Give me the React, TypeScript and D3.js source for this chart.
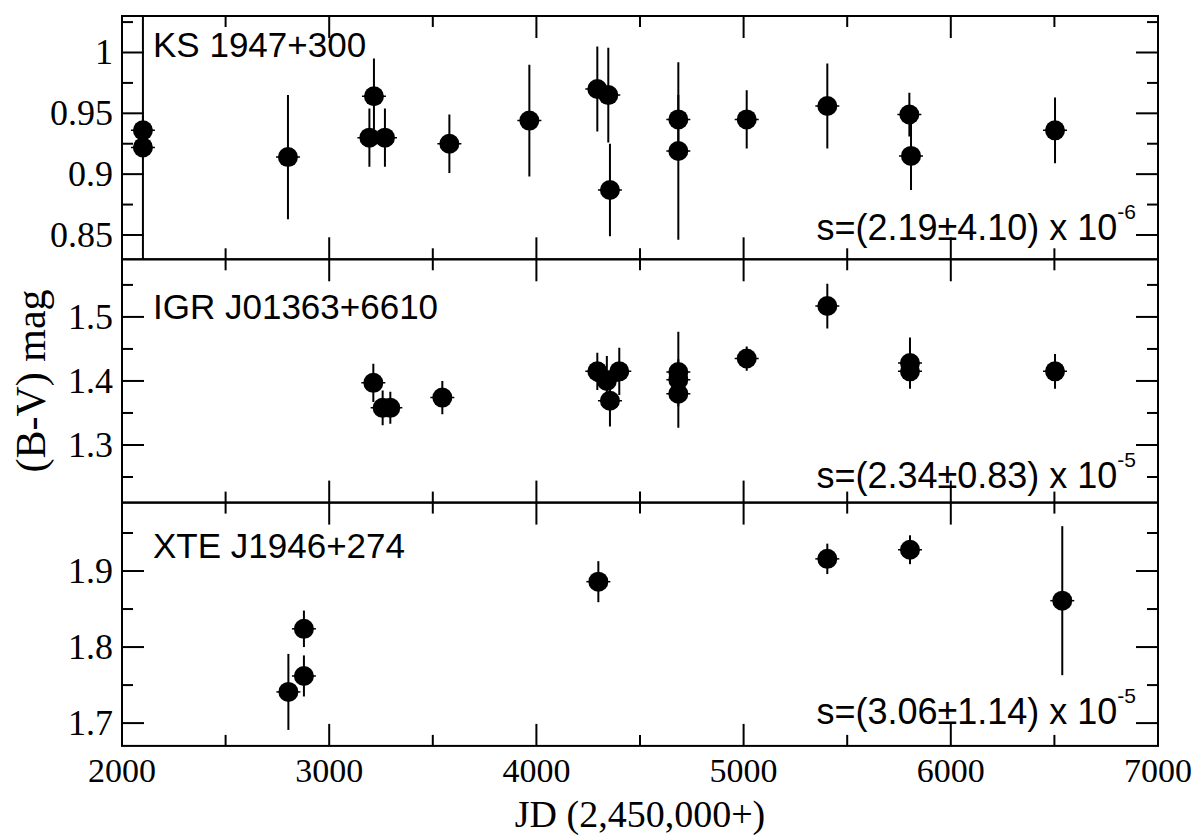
import React, { useEffect, useRef } from "react";
import * as d3 from "d3";

// KS 1947+300
const ksJD = [2101, 2101, 2801, 3194, 3216, 3269, 3580, 3966, 4294, 4347, 4355, 4685, 4685, 5015, 5404, 5800, 5808, 6503];
const ksBV = [0.936, 0.922, 0.914, 0.93, 0.964, 0.93, 0.925, 0.944, 0.97, 0.965, 0.887, 0.945, 0.919, 0.945, 0.956, 0.949, 0.915, 0.936];
const ksErr = [0.012, 0.2, 0.051, 0.024, 0.031, 0.024, 0.024, 0.046, 0.035, 0.039, 0.038, 0.02, 0.073, 0.024, 0.035, 0.018, 0.028, 0.027];

// IGR J01363+6610
const igrJD = [3213, 3258, 3295, 3546, 4294, 4340, 4355, 4400, 4685, 4685, 4685, 5015, 5404, 5803, 5803, 6503];
const igrBV = [1.397, 1.358, 1.358, 1.374, 1.415, 1.4, 1.369, 1.415, 1.414, 1.402, 1.38, 1.435, 1.517, 1.428, 1.415, 1.415];
const igrErr = [0.03, 0.027, 0.025, 0.026, 0.029, 0.039, 0.04, 0.037, 0.02, 0.075, 0.02, 0.019, 0.035, 0.04, 0.02, 0.027];

// XTE J1946+274
const xteJD = [2803, 2878, 2878, 4299, 5404, 5803, 6538];
const xteBV = [1.741, 1.824, 1.762, 1.886, 1.916, 1.928, 1.861];
const xteErr = [0.05, 0.024, 0.027, 0.027, 0.02, 0.019, 0.098];

const panelNames = ["KS 1947+300", "IGR J01363+6610", "XTE J1946+274"];
const slopeTexts = ["s=(2.19\u00b14.10) x 10", "s=(2.34\u00b10.83) x 10", "s=(3.06\u00b11.14) x 10"];
const slopeExps = ["-6", "-5", "-5"];
const yDomains = [[0.83, 1.03], [1.21, 1.59], [1.67, 1.99]];
const yMajorTicks = [[0.85, 0.9, 0.95, 1], [1.3, 1.4, 1.5], [1.7, 1.8, 1.9]];
const yMinorSteps = [0.025, 0.05, 0.05];
const xMajorTicks = [2000, 3000, 4000, 5000, 6000, 7000];
const xMinorTicks = [2500, 3500, 4500, 5500, 6500];

const SERIF = "'Liberation Serif', 'Times New Roman', serif";
const SANS = "'Liberation Sans', Arial, Helvetica, sans-serif";

const App = () => {
  const ref = useRef<SVGSVGElement>(null);

  useEffect(() => {
    const svg = d3.select(ref.current);
    svg.selectAll("*").remove();

    const left = 122;
    const right = 1158;
    const top = 16;
    const panelH = 243.3;
    const major = 22;
    const minor = 11;

    const x = d3.scaleLinear().domain([2000, 7000]).range([left, right]);

    const panels = [
      { jd: ksJD, bv: ksBV, err: ksErr, labelDy: 41, slopeDy: 19 },
      { jd: igrJD, bv: igrBV, err: igrErr, labelDy: 60, slopeDy: 15 },
      { jd: xteJD, bv: xteBV, err: xteErr, labelDy: 55, slopeDy: 22 },
    ];

    svg.append("rect").attr("width", 1200).attr("height", 840).attr("fill", "#fff");

    panels.forEach((p, i) => {
      const y0 = top + i * panelH;
      const y1 = y0 + panelH;
      const [lo, hi] = yDomains[i];
      const y = d3.scaleLinear().domain([lo, hi]).range([y1, y0]);
      const g = svg.append("g");

      // clip for error bars running out of the panel
      const clipId = `clip${i}`;
      svg
        .append("defs")
        .append("clipPath")
        .attr("id", clipId)
        .append("rect")
        .attr("x", left)
        .attr("y", y0)
        .attr("width", right - left)
        .attr("height", panelH);

      const pts = p.jd.map((d, k) => ({ jd: d, v: p.bv[k], e: p.err[k] }));
      const marks = g.append("g").attr("clip-path", `url(#${clipId})`);

      marks
        .selectAll("line.err")
        .data(pts)
        .join("line")
        .attr("class", "err")
        .attr("x1", (d) => x(d.jd))
        .attr("x2", (d) => x(d.jd))
        .attr("y1", (d) => y(d.v - d.e))
        .attr("y2", (d) => y(d.v + d.e))
        .attr("stroke", "#000")
        .attr("stroke-width", 2);

      marks
        .selectAll("line.cap")
        .data(pts)
        .join("line")
        .attr("class", "cap")
        .attr("x1", (d) => x(d.jd) - 12)
        .attr("x2", (d) => x(d.jd) + 12)
        .attr("y1", (d) => y(d.v))
        .attr("y2", (d) => y(d.v))
        .attr("stroke", "#000")
        .attr("stroke-width", 1.5);

      marks
        .selectAll("circle")
        .data(pts)
        .join("circle")
        .attr("cx", (d) => x(d.jd))
        .attr("cy", (d) => y(d.v))
        .attr("r", 10)
        .attr("fill", "#000");

      // frame
      g.append("rect")
        .attr("x", left)
        .attr("y", y0)
        .attr("width", right - left)
        .attr("height", panelH)
        .attr("fill", "none")
        .attr("stroke", "#000")
        .attr("stroke-width", 2);

      // y ticks on both sides
      const minorY = d3
        .range(Math.ceil(lo / yMinorSteps[i]) * yMinorSteps[i], hi, yMinorSteps[i])
        .filter((v) => !yMajorTicks[i].some((m) => Math.abs(m - v) < 1e-6));
      const yTicks = [
        ...yMajorTicks[i].map((v) => ({ v, len: major })),
        ...minorY.map((v) => ({ v, len: minor })),
      ];
      g.selectAll("line.yl")
        .data(yTicks)
        .join("line")
        .attr("class", "yl")
        .attr("x1", left)
        .attr("x2", (d) => left + d.len)
        .attr("y1", (d) => y(d.v))
        .attr("y2", (d) => y(d.v))
        .attr("stroke", "#000")
        .attr("stroke-width", 2);
      g.selectAll("line.yr")
        .data(yTicks)
        .join("line")
        .attr("class", "yr")
        .attr("x1", right)
        .attr("x2", (d) => right - d.len)
        .attr("y1", (d) => y(d.v))
        .attr("y2", (d) => y(d.v))
        .attr("stroke", "#000")
        .attr("stroke-width", 2);

      // x ticks top and bottom of each panel
      const xTicks = [
        ...xMajorTicks.map((v) => ({ v, len: major })),
        ...xMinorTicks.map((v) => ({ v, len: minor })),
      ];
      [y0, y1].forEach((edge, s) => {
        g.append("g")
          .selectAll("line")
          .data(xTicks)
          .join("line")
          .attr("x1", (d) => x(d.v))
          .attr("x2", (d) => x(d.v))
          .attr("y1", edge)
          .attr("y2", (d) => (s === 0 ? edge + d.len : edge - d.len))
          .attr("stroke", "#000")
          .attr("stroke-width", 2);
      });

      // y tick labels
      g.selectAll("text.yt")
        .data(yMajorTicks[i])
        .join("text")
        .attr("class", "yt")
        .attr("x", left - 9)
        .attr("y", (d) => y(d) + 12)
        .attr("text-anchor", "end")
        .style("font-family", SERIF)
        .style("font-size", "36px")
        .text((d) => String(+d.toFixed(3)));

      // panel name
      g.append("text")
        .attr("x", left + 31)
        .attr("y", y0 + p.labelDy)
        .style("font-family", SANS)
        .style("font-size", "35px")
        .text(panelNames[i]);

      // slope annotation
      const st = g
        .append("text")
        .attr("x", right - 22)
        .attr("y", y1 - p.slopeDy)
        .attr("text-anchor", "end")
        .style("font-family", SANS)
        .style("font-size", "36px");
      st.append("tspan").text(slopeTexts[i]);
      st.append("tspan").attr("dy", -21).style("font-size", "21px").text(slopeExps[i]);
    });

    const bottom = top + 3 * panelH;

    svg
      .append("g")
      .selectAll("text")
      .data(xMajorTicks)
      .join("text")
      .attr("x", (d) => x(d))
      .attr("y", bottom + 36)
      .attr("text-anchor", "middle")
      .style("font-family", SERIF)
      .style("font-size", "34px")
      .text((d) => d);

    svg
      .append("text")
      .attr("x", (left + right) / 2)
      .attr("y", 827)
      .attr("text-anchor", "middle")
      .style("font-family", SERIF)
      .style("font-size", "38px")
      .text("JD (2,450,000+)");

    svg
      .append("text")
      .attr("transform", `translate(45,${(top + bottom) / 2}) rotate(-90)`)
      .attr("text-anchor", "middle")
      .style("font-family", SERIF)
      .style("font-size", "42px")
      .text("(B-V) mag");
  }, []);

  return (
    <svg
      ref={ref}
      width={1200}
      height={840}
      style={{ position: "absolute", left: 0, top: 0, background: "#fff" }}
    />
  );
};

export default App;
